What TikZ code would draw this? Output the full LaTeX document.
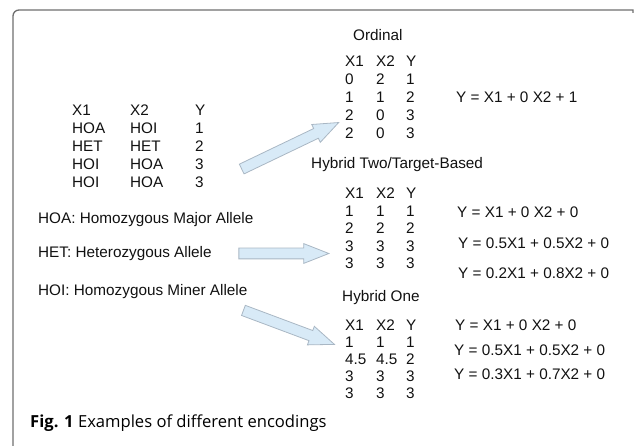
\documentclass[tikz,border=0pt]{standalone}
\usepackage{fontspec}
\setmainfont{Liberation Sans}
\newfontfamily\capfont{Open Sans}
\usepackage{xcolor}
\usepackage{tikz}
\usetikzlibrary{
  positioning,
  calc,
  shapes.arrows
}
\definecolor{arrowfill}{HTML}{D8EAF7}
\definecolor{arrowline}{HTML}{A9B7C4}
\definecolor{framegray}{HTML}{6E6E6E}
\definecolor{textgray}{HTML}{111111}

\begin{document}
\begin{tikzpicture}[
      x=1pt, y=-1pt,
      txt/.style={anchor=base west, inner sep=0, text=textgray, font=\fontsize{15.3}{18}\selectfont},
      enctable/.style={txt, font=\fontsize{15.3}{#1}\selectfont},
      frame/.style={draw=framegray, line width=1.3pt},
      arrowshape/.style={single arrow, draw=arrowline, fill=arrowfill, line width=0.8pt,
        inner xsep=0, inner ysep=5pt, single arrow head extend=4.5pt, single arrow tip angle=43},
      blockarrow/.style={to path={
        let \p1=($(\tikztotarget)-(\tikztostart)$), \n1={veclen(\x1,\y1)}, \n2={atan2(\y1,\x1)}
        in node[arrowshape, minimum height=\n1, rotate=\n2] at ($(\tikztostart)!0.5!(\tikztotarget)$) {}}}
    ]
      \useasboundingbox (0,0) rectangle (634,446);

      % Frame
      \draw[frame] (13,446) {[rounded corners=6pt] -- (13,10) -- (320,10)} -- (633,10) -- (633,13);

      % Genotype table and legend
      \node[enctable=17.8] (geno) at (72,116) {\begin{tabular}[t]{@{}p{58pt}@{}p{65pt}@{}l@{}}
        X1 & X2 & Y\\ HOA & HOI & 1\\ HET & HET & 2\\ HOI & HOA & 3\\ HOI & HOA & 3\end{tabular}};
      \node[txt] (hoa) at (38,224) {HOA: Homozygous Major Allele};
      \node[txt] (het) at (38,258) {HET: Heterozygous Allele};
      \node[txt] (hoi) at (38,295) {HOI: Homozygous Miner Allele};

      % Ordinal
      \node[txt] (ordtitle) at (353,41) {Ordinal};
      \node[enctable=18] (ordtab) at (345,67) {\begin{tabular}[t]{@{}p{31pt}@{}p{30pt}@{}l@{}}
        X1 & X2 & Y\\ 0 & 2 & 1\\ 1 & 1 & 2\\ 2 & 0 & 3\\ 2 & 0 & 3\end{tabular}};
      \node[txt] (ordeq) at (456,103) {Y = X1 + 0 X2 + 1};

      % Hybrid two / target-based
      \node[txt] (twotitle) at (311,169) {Hybrid Two/Target-Based};
      \node[enctable=17.5] (twotab) at (345,199) {\begin{tabular}[t]{@{}p{31pt}@{}p{30pt}@{}l@{}}
        X1 & X2 & Y\\ 1 & 1 & 1\\ 2 & 2 & 2\\ 3 & 3 & 3\\ 3 & 3 & 3\end{tabular}};
      \node[txt] (twoeqa) at (457,218) {Y = X1 + 0 X2 + 0};
      \node[txt] (twoeqb) at (458,249) {Y = 0.5X1 + 0.5X2 + 0};
      \node[txt] (twoeqc) at (458,278) {Y = 0.2X1 + 0.8X2 + 0};

      % Hybrid one
      \node[txt] (onetitle) at (342,301) {Hybrid One};
      \node[enctable=17.1] (onetab) at (345,330) {\begin{tabular}[t]{@{}p{31pt}@{}p{30pt}@{}l@{}}
        X1 & X2 & Y\\ 1 & 1 & 1\\ 4.5 & 4.5 & 2\\ 3 & 3 & 3\\ 3 & 3 & 3\end{tabular}};
      \node[txt] (oneeqa) at (455,330) {Y = X1 + 0 X2 + 0};
      \node[txt] (oneeqb) at (454,355) {Y = 0.5X1 + 0.5X2 + 0};
      \node[txt] (oneeqc) at (454,379) {Y = 0.3X1 + 0.7X2 + 0};

      % Block arrows
      \coordinate (tailord) at (235.5,172);
      \coordinate (tipord) at (332.5,125.5);
      \coordinate (tailtwo) at (232,253.5);
      \coordinate (tiptwo) at (322,253.5);
      \coordinate (tailone) at (237,308);
      \coordinate (tipone) at (328,342);
      \path (tailord) to[blockarrow] (tipord);
      \path (tailtwo) to[blockarrow] (tiptwo);
      \path (tailone) to[blockarrow] (tipone);

      % Caption
      \node[anchor=base west, inner sep=0, font=\capfont\fontsize{16.6}{19}\selectfont] (caption) at (30,427)
        {\textbf{Fig. 1} Examples of different encodings};
    \end{tikzpicture}
\end{document}
